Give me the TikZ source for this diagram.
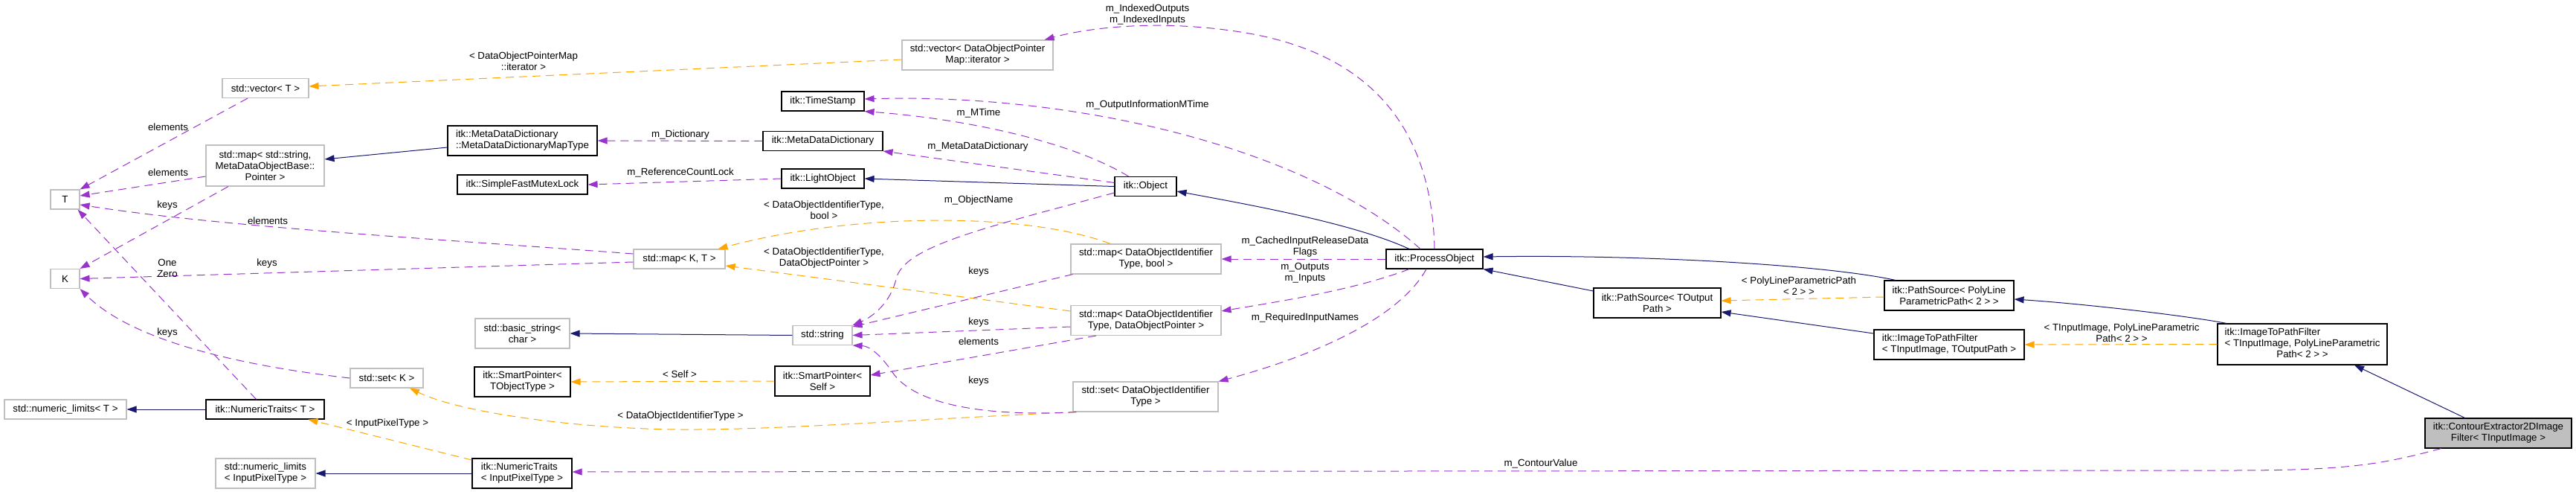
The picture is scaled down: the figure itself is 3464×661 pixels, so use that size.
\documentclass[tikz,border=0pt]{standalone}
\usepackage{fontspec}
\setmainfont{Liberation Sans}
\usetikzlibrary{arrows.meta}
\definecolor{inhblue}{HTML}{191970}
\definecolor{usepurple}{HTML}{9A32CD}
\definecolor{tplorange}{HTML}{FFA500}
\definecolor{extgray}{HTML}{BFBFBF}
\newcommand{\dfont}{\fontsize{13.3}{15}\selectfont}

\begin{document}
\begin{tikzpicture}[x=1pt, y=-1pt, >={Triangle[length=13pt,width=9pt]},
  cls/.style={draw=black, line width=1.1pt, fill=white, inner sep=0pt, align=center, font=\dfont},
  ext/.style={cls, draw=extgray},
  lbl/.style={font=\dfont, align=center, inner sep=0pt},
  inhline/.style={->, draw=inhblue, line width=1pt},
  useline/.style={->, draw=usepurple, line width=1pt, dash pattern=on 11pt off 7pt},
  tplline/.style={->, draw=tplorange, line width=1pt, dash pattern=on 11pt off 7pt}]
\useasboundingbox (0,0) rectangle (3464,661);

\node[ext, minimum width=39pt, minimum height=26pt] (T) at (87.5,268) {T};
\node[ext, minimum width=39pt, minimum height=26pt] (K) at (87.5,374.5) {K};
\node[ext, minimum width=116pt, minimum height=26pt] (vecT) at (357,118.5) {std::vector< T >};
\node[ext, minimum width=159pt, minimum height=55pt] (mapStr) at (356.5,222.5) {std::map< std::string,\\ MetaDataObjectBase::\\Pointer >};
\node[ext, minimum width=98pt, minimum height=26pt] (setK) at (520,508) {std::set< K >};
\node[ext, minimum width=164pt, minimum height=26pt] (numlimT) at (88,550) {std::numeric\_limits< T >};
\node[cls, minimum width=159pt, minimum height=26pt] (NTT) at (356.5,550) {itk::NumericTraits< T >};
\node[ext, align=left, minimum width=134pt, minimum height=40pt] (numlimIPT) at (357,636) {std::numeric\_limits\\< InputPixelType >};
\node[cls, align=left, minimum width=134pt, minimum height=40pt] (NTIPT) at (702,636) {itk::NumericTraits\\< InputPixelType >};
\node[cls, align=left, minimum width=201pt, minimum height=40pt] (MapType) at (702.5,189) {itk::MetaDataDictionary\\::MetaDataDictionaryMapType};
\node[cls, minimum width=175pt, minimum height=26pt] (SFML) at (702.5,248) {itk::SimpleFastMutexLock};
\node[ext, minimum width=127pt, minimum height=40pt] (basicStr) at (702.5,448) {std::basic\_string<\\char >};
\node[cls, minimum width=129pt, minimum height=40pt] (SPTOT) at (702.5,513) {itk::SmartPointer<\\TObjectType >};
\node[ext, minimum width=123pt, minimum height=26pt] (mapKT) at (913.5,348) {std::map< K, T >};
\node[cls, minimum width=111pt, minimum height=26pt] (TimeStamp) at (1106.5,136) {itk::TimeStamp};
\node[cls, minimum width=161pt, minimum height=26pt] (MDD) at (1106.5,189.5) {itk::MetaDataDictionary};
\node[cls, minimum width=111pt, minimum height=26pt] (LightObj) at (1106.5,240) {itk::LightObject};
\node[ext, minimum width=80pt, minimum height=26pt] (stdString) at (1106,450.5) {std::string};
\node[cls, minimum width=128pt, minimum height=40pt] (SPSelf) at (1106,512) {itk::SmartPointer<\\Self >};
\node[ext, minimum width=203pt, minimum height=40pt] (vecIter) at (1314.5,74) {std::vector< DataObjectPointer\\Map::iterator >};
\node[cls, minimum width=83pt, minimum height=26pt] (Object) at (1540.5,250.5) {itk::Object};
\node[ext, minimum width=202pt, minimum height=40pt] (mapBool) at (1541,348) {std::map< DataObjectIdentifier\\Type, bool >};
\node[ext, minimum width=202pt, minimum height=40pt] (mapDOP) at (1541,430.5) {std::map< DataObjectIdentifier\\Type, DataObjectPointer >};
\node[ext, minimum width=195pt, minimum height=40pt] (setDOIT) at (1540.5,533) {std::set< DataObjectIdentifier\\Type >};
\node[cls, minimum width=130pt, minimum height=26pt] (ProcObj) at (1929,348) {itk::ProcessObject};
\node[cls, minimum width=171pt, minimum height=40pt] (PathSrcT) at (2228.5,407) {itk::PathSource< TOutput\\Path >};
\node[cls, minimum width=174pt, minimum height=40pt] (PathSrcPL) at (2621,397) {itk::PathSource< PolyLine\\ParametricPath< 2 > >};
\node[cls, align=left, minimum width=202pt, minimum height=40pt] (ITPFT) at (2621,463) {itk::ImageToPathFilter\\< TInputImage, TOutputPath >};
\node[cls, minimum width=228pt, minimum height=55pt] (ITPFPL) at (3096,462.5) {\begin{tabular}{@{}l@{}}itk::ImageToPathFilter\\< TInputImage, PolyLineParametric\\\multicolumn{1}{@{}c@{}}{Path< 2 > >}\end{tabular}};
\node[cls, fill=extgray, minimum width=197pt, minimum height=40pt] (Contour) at (3359.5,582) {itk::ContourExtractor2DImage\\Filter< TInputImage >};

\draw[inhline] (NTT.west) -- (numlimT.east);
\draw[inhline] ([yshift=-9pt]MapType.west) -- ([yshift=8.5pt]mapStr.east);
\draw[inhline] (Object.west) -- (LightObj.east);
\draw[inhline] (stdString.west) -- (basicStr.east);
\draw[inhline] (NTIPT.west) -- (numlimIPT.east);
\draw[inhline] ([xshift=-34pt]ProcObj.north) .. controls (1820,300) and (1680,275) .. ([yshift=-6.5pt]Object.east);
\draw[inhline] ([xshift=-72pt]PathSrcPL.north) .. controls (2450,355) and (2200,342) .. ([yshift=3pt]ProcObj.east);
\draw[inhline] ([yshift=16pt]PathSrcT.west) -- (ProcObj.south east);
\draw[inhline] ([yshift=15pt]ITPFT.west) -- ([yshift=-12pt]PathSrcT.east);
\draw[inhline] ([xshift=-102pt]ITPFPL.north) .. controls (2940,424) and (2800,408) .. ([yshift=-5pt]PathSrcPL.east);
\draw[inhline] ([xshift=-45pt]Contour.north) -- ([xshift=70pt]ITPFPL.south);

\draw[tplline] ([yshift=-6pt]vecIter.west) -- ([yshift=2.5pt]vecT.east);
\draw[tplline] ([yshift=12.5pt]mapDOP.west) -- ([yshift=-9pt]mapKT.east);
\draw[tplline] ([xshift=-48pt]mapBool.north) .. controls (1380,285) and (1150,285) .. ([xshift=-10pt]mapKT.north east);
\draw[tplline] ([xshift=5pt]setDOIT.south west) .. controls (1250,562) and (1050,578) .. (913,577) .. controls (780,576) and (620,555) .. ([xshift=31pt]setK.south);
\draw[tplline] (SPSelf.west) -- (SPTOT.east);
\draw[tplline] ([yshift=18pt]NTIPT.west) -- ([xshift=58pt]NTT.south);
\draw[tplline] ([yshift=-2pt]PathSrcPL.west) -- ([yshift=3pt]PathSrcT.east);
\draw[tplline] (ITPFPL.west) -- (ITPFT.east);

\draw[useline] ([xshift=-24pt]vecT.south) -- (T.north east);
\draw[useline] ([yshift=-14.5pt]mapStr.west) -- ([yshift=5pt]T.east);
\draw[useline] ([xshift=-49.5pt]mapStr.south) -- (K.north east);
\draw[useline] ([yshift=7pt]mapKT.west) .. controls (600,322) and (300,305) .. ([yshift=-7pt]T.east);
\draw[useline] ([yshift=-4pt]mapKT.west) -- (K.east);
\draw[useline] (setK.west) .. controls (330,492) and (180,460) .. (K.south east);
\draw[useline] ([xshift=-12pt]NTT.north) -- ([xshift=-3pt]T.south east);
\draw[useline] (MDD.west) -- (MapType.east);
\draw[useline] (LightObj.west) -- (SFML.east);
\draw[useline] ([yshift=5pt]Object.west) -- (MDD.south east);
\draw[useline] ([xshift=-23pt]Object.north) .. controls (1440,190) and (1300,160) .. (TimeStamp.south east);
\draw[useline] ([xshift=-19pt]ProcObj.north) .. controls (1760,200) and (1450,125) .. ([yshift=3pt]TimeStamp.east);
\draw[useline] (ProcObj.north) .. controls (1925,150) and (1820,70) .. (1680,45) .. controls (1560,24) and (1460,38) .. ([xshift=-12pt]vecIter.north east);
\draw[useline] (ProcObj.west) -- (mapBool.east);
\draw[useline] ([xshift=-34pt]ProcObj.south) .. controls (1820,390) and (1720,405) .. ([yshift=12.5pt]mapDOP.east);
\draw[useline] ([xshift=-11pt]ProcObj.south) .. controls (1880,430) and (1760,480) .. (setDOIT.north east);
\draw[useline] ([yshift=-8.5pt]Object.west) .. controls (1330,305) and (1215,330) .. (1205,375) .. controls (1198,405) and (1175,425) .. (stdString.north east);
\draw[useline] ([xshift=3pt]mapBool.south west) -- ([yshift=-2pt]stdString.north east);
\draw[useline] ([yshift=-8.5pt]mapDOP.west) -- (stdString.east);
\draw[useline] ([xshift=5pt]setDOIT.south west) .. controls (1330,560) and (1230,545) .. (1200,500) .. controls (1185,478) and (1170,465) .. (stdString.south east);
\draw[useline] ([xshift=-67pt]mapDOP.south) -- ([yshift=8pt]SPSelf.east);
\draw[useline] ([xshift=-77pt]Contour.south) .. controls (3200,625) and (3150,632) .. (3000,632) -- ([yshift=2pt]NTIPT.east);

\node[lbl] (lVecIter) at (704,82) {< DataObjectPointerMap\\::iterator >};
\node[lbl] (lElemVec) at (226,171) {elements};
\node[lbl] (lElemStr) at (226,232) {elements};
\node[lbl] (lKeysStr) at (225,276) {keys};
\node[lbl] (lElemKT) at (360,297) {elements};
\node[lbl] (lOneZero) at (225,360) {One\\Zero};
\node[lbl] (lKeysKT) at (359,354) {keys};
\node[lbl] (lKeysSet) at (225,447) {keys};
\node[lbl] (lIPT) at (521,569) {< InputPixelType >};
\node[lbl] (lDict) at (915,181) {m\_Dictionary};
\node[lbl] (lLock) at (915,232) {m\_ReferenceCountLock};
\node[lbl] (lBool) at (1108,282) {< DataObjectIdentifierType,\\bool >};
\node[lbl] (lDOP) at (1108,347) {< DataObjectIdentifierType,\\DataObjectPointer >};
\node[lbl] (lSelf) at (914,503) {< Self >};
\node[lbl] (lDOIT) at (915,559) {< DataObjectIdentifierType >};
\node[lbl] (lIndexed) at (1543,19.5) {m\_IndexedOutputs\\m\_IndexedInputs};
\node[lbl] (lOutInfo) at (1543,141) {m\_OutputInformationMTime};
\node[lbl] (lMTime) at (1316,152) {m\_MTime};
\node[lbl] (lMDD) at (1315,197) {m\_MetaDataDictionary};
\node[lbl] (lName) at (1316,269) {m\_ObjectName};
\node[lbl] (lCached) at (1755,332) {m\_CachedInputReleaseData\\Flags};
\node[lbl] (lKeysBool) at (1316,365) {keys};
\node[lbl] (lKeysDOP) at (1316,433) {keys};
\node[lbl] (lElemDOP) at (1316,459) {elements};
\node[lbl] (lKeysDOIT) at (1316,512) {keys};
\node[lbl] (lInOut) at (1755,367) {m\_Outputs\\m\_Inputs};
\node[lbl] (lReq) at (1755,427) {m\_RequiredInputNames};
\node[lbl] (lContour) at (2072,623) {m\_ContourValue};
\node[lbl] (lPLPath) at (2419,384.5) {< PolyLineParametricPath\\< 2 > >};
\node[lbl] (lTIPL) at (2853,447) {< TInputImage, PolyLineParametric\\Path< 2 > >};
\end{tikzpicture}
\end{document}
